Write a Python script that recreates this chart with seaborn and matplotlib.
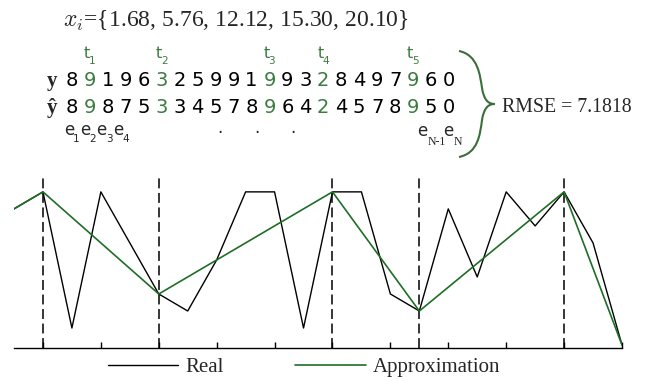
import numpy as np
import pandas as pd
import matplotlib
matplotlib.use('Agg')
from matplotlib import pyplot as plt
from matplotlib.path import Path
from matplotlib.patches import PathPatch
import seaborn as sns

# data
y_real = [8, 9, 1, 9, 6, 3, 2, 5, 9, 9, 1, 9, 9, 3, 2, 8, 4, 9, 7, 9, 6, 0]
y_hat = [8, 9, 8, 7, 5, 3, 3, 4, 5, 7, 8, 9, 6, 4, 2, 4, 5, 7, 8, 9, 5, 0]
knots = [1, 5, 11, 14, 19]
x_knots = [1.68, 5.76, 12.12, 15.30, 20.10]
rmse = 7.1818

sns.set_style('white')
plt.rcParams['font.family'] = ['Liberation Serif', 'DejaVu Sans']
plt.rcParams['mathtext.fontset'] = 'cm'

GREEN_LINE = '#1f6e26'
GREEN_TXT = '#3c7c40'

fig = plt.figure(figsize=(6.57, 3.81), dpi=100)

# ---- chart ----
ax = fig.add_axes([14 / 657, 1 - 347.6 / 381, 608 / 657, (347.6 - 174) / 381])
idx = np.arange(len(y_real))
df = pd.DataFrame({'i': idx, 'y': y_real})
# approximation = straight segments through the knots (plus both ends)
pts = [0] + knots + [len(y_real) - 1]
df_app = pd.DataFrame({'i': pts, 'y': [y_real[p] for p in pts]})

sns.lineplot(data=df, x='i', y='y', color='black', lw=1.0, ax=ax, label='Real')
sns.lineplot(data=df_app, x='i', y='y', color=GREEN_LINE, lw=1.2, ax=ax, label='Approximation')
for k in knots:
    ax.axvline(k, color='black', lw=1.1, ls=(0, (6.5, 3)), zorder=0)

ax.set_xlim(0, len(y_real) - 1)
ax.set_ylim(-0.15, 10.05)
ax.set_xticks(idx[1::2])
ax.set_xticklabels([])
ax.set_yticks([])
ax.set_xlabel('')
ax.set_ylabel('')
sns.despine(ax=ax, left=True, top=True, right=True)
ax.spines['bottom'].set_color('black')
ax.spines['bottom'].set_linewidth(1.0)
ax.tick_params(axis='x', direction='in', length=4, width=1, color='black', bottom=True)
ax.patch.set_alpha(0)

ax.legend(loc='center', bbox_to_anchor=(304 / 657, 1 - 367 / 381), bbox_transform=fig.transFigure,
          ncol=2, frameon=False, fontsize=15, handlelength=3.4, handletextpad=0.35,
          columnspacing=3.4, borderpad=0, borderaxespad=0)

# ---- annotation layer in pixel coordinates ----
ov = fig.add_axes([0, 0, 1, 1])
ov.set_xlim(0, 657)
ov.set_ylim(381, 0)
ov.axis('off')
ov.patch.set_alpha(0)

xs = ', '.join(f'{v:.2f}' for v in x_knots)
ov.text(63, 27, r'$x_i$' + '={' + xs + '}', fontsize=17, va='baseline', ha='left')

ov.text(47, 86, 'y', fontsize=15, fontweight='bold', va='baseline', ha='left')
ov.text(47, 113, 'ŷ', fontsize=15, fontweight='bold', va='baseline', ha='left')

x0, dx = 72, 17.95
for i, (a, b) in enumerate(zip(y_real, y_hat)):
    c = GREEN_TXT if i in knots else 'black'
    ov.text(x0 + dx * i, 86, str(a), color=c, fontsize=14, family='DejaVu Sans',
            ha='center', va='baseline')
    ov.text(x0 + dx * i, 113, str(b), color=c, fontsize=14, family='DejaVu Sans',
            ha='center', va='baseline')
for n, k in enumerate(knots, start=1):
    ov.text(x0 + dx * k - 3, 58, 't', color=GREEN_TXT, fontsize=11.5, family='DejaVu Sans',
            ha='center', va='baseline')
    ov.text(x0 + dx * k + 2.5, 64, str(n), color=GREEN_TXT, fontsize=7.5, family='DejaVu Sans',
            ha='center', va='baseline')

# error labels
for n in range(4):
    ex = 72 + 16.3 * n
    ov.text(ex - 3, 135, 'e', fontsize=12, family='DejaVu Sans', ha='center', va='baseline')
    ov.text(ex + 4.5, 142, str(n + 1), fontsize=7.5, family='DejaVu Sans', ha='center', va='baseline')
for dxp in [220, 257, 293]:
    ov.text(dxp, 133, '.', fontsize=12, family='DejaVu Sans', ha='center', va='baseline')
ov.text(422.5, 136, 'e', fontsize=12, family='DejaVu Sans', ha='center', va='baseline')
ov.text(428, 145, 'N-1', fontsize=8.5, ha='left', va='baseline')
ov.text(448, 136, 'e', fontsize=12, family='DejaVu Sans', ha='center', va='baseline')
ov.text(453.5, 145, 'N', fontsize=8.5, ha='left', va='baseline')

# curly brace
verts = [(459, 51), (478, 55), (480, 75), (482, 88),
         (484, 100), (488, 104), (495, 104),
         (488, 104), (484, 108), (482, 120),
         (480, 135), (478, 153), (459, 157)]
codes = [Path.MOVETO] + [Path.CURVE4] * 12
ov.add_patch(PathPatch(Path(verts, codes), fill=False, edgecolor='#3a6e3a', lw=1.5))
ov.text(502, 112, f'RMSE = {rmse:.4f}', fontsize=14.3, ha='left', va='baseline')

fig.savefig('out.png', dpi=100)
